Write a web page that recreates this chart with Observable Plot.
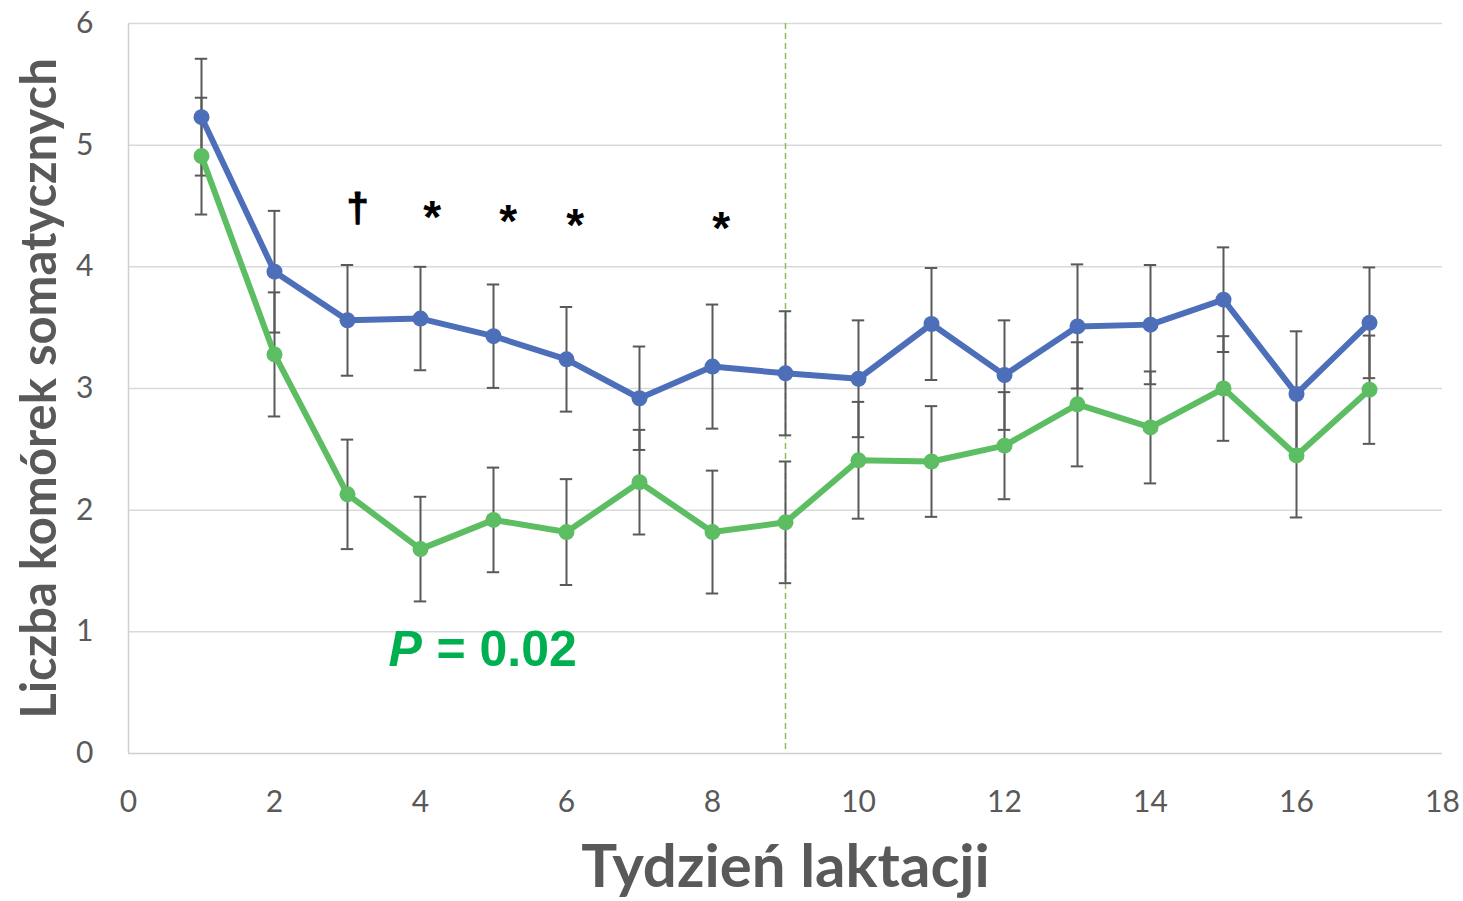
<!DOCTYPE html>
<html>
<head>
<meta charset="utf-8">
<script src="https://cdn.jsdelivr.net/npm/d3@7"></script>
<script src="https://cdn.jsdelivr.net/npm/@observablehq/plot@0.6"></script>
<style>
  html, body { margin: 0; padding: 0; background: #fff; }
  #chart svg { display: block; }
</style>
</head>
<body>
<div id="chart"></div>
<script>
const weeks = [1, 2, 3, 4, 5, 6, 7, 8, 9, 10, 11, 12, 13, 14, 15, 16, 17];
const blueMean = [5.23, 3.96, 3.56, 3.575, 3.43, 3.24, 2.92, 3.18, 3.125, 3.08, 3.53, 3.11, 3.51, 3.525, 3.73, 2.955, 3.54];
const blueErr  = [0.48, 0.50, 0.455, 0.425, 0.425, 0.43, 0.425, 0.51, 0.51, 0.48, 0.46, 0.45, 0.51, 0.49, 0.43, 0.515, 0.455];
const greenMean = [4.91, 3.28, 2.13, 1.68, 1.92, 1.82, 2.23, 1.82, 1.90, 2.41, 2.40, 2.53, 2.87, 2.68, 3.00, 2.45, 2.99];
const greenErr  = [0.48, 0.51, 0.45, 0.43, 0.43, 0.435, 0.43, 0.505, 0.50, 0.48, 0.455, 0.44, 0.51, 0.46, 0.43, 0.51, 0.445];

const xTicks = [0, 2, 4, 6, 8, 10, 12, 14, 16, 18];
const yTicks = [0, 1, 2, 3, 4, 5, 6];
const dividerWeek = [9];

const sigX = [3.14, 4.16, 5.2, 6.12, 8.12];
const sigY = [4.47, 4.40, 4.37, 4.33, 4.31];
const sigSymbols = ["†", "*", "*", "*", "*"];

const pLabelX = [3.56];
const pLabelY = [0.85];

const xTitle = "Tydzień laktacji";
const yTitle = "Liczba komórek somatycznych";

const blueRows = weeks.map((w, i) => ({week: w, mean: blueMean[i], err: blueErr[i]}));
const greenRows = weeks.map((w, i) => ({week: w, mean: greenMean[i], err: greenErr[i]}));
const allRows = blueRows.concat(greenRows);
const sigRows = sigX.map((x, i) => ({x, y: sigY[i], s: sigSymbols[i]}));

const BLUE = "#4d6fb9";
const GREEN = "#5cbd63";
const BAR = "#595959";
const capHalf = 0.085;

const chart = Plot.plot({
  width: 1463,
  height: 901,
  marginLeft: 128,
  marginRight: 21,
  marginTop: 23,
  marginBottom: 148,
  style: {fontFamily: "Lato, sans-serif", background: "#fff", overflow: "visible"},
  x: {domain: [0, 18]},
  y: {domain: [0, 6]},
  marks: [
    Plot.gridY(yTicks.filter(t => t > 0), {stroke: "#d9d9d9", strokeOpacity: 1, strokeWidth: 1.5}),
    Plot.ruleX([0], {stroke: "#d0d0d0", strokeWidth: 1.5}),
    Plot.ruleY([0], {stroke: "#d0d0d0", strokeWidth: 1.5}),
    Plot.ruleX(dividerWeek, {stroke: "#8cbd5a", strokeWidth: 1.5, strokeDasharray: "6,4"}),
    Plot.axisX(xTicks, {tickSize: 0, tickPadding: 37, fontSize: 30, color: "#595959", label: null, tickFormat: d => String(d)}),
    Plot.axisY(yTicks, {tickSize: 0, tickPadding: 35, fontSize: 30, color: "#595959", label: null, tickFormat: d => String(d)}),
    Plot.ruleX(allRows, {x: "week", y1: d => d.mean - d.err, y2: d => d.mean + d.err, stroke: BAR, strokeWidth: 2}),
    Plot.ruleY(allRows, {y: d => d.mean + d.err, x1: d => d.week - capHalf, x2: d => d.week + capHalf, stroke: BAR, strokeWidth: 2}),
    Plot.ruleY(allRows, {y: d => d.mean - d.err, x1: d => d.week - capHalf, x2: d => d.week + capHalf, stroke: BAR, strokeWidth: 2}),
    Plot.line(blueRows, {x: "week", y: "mean", stroke: BLUE, strokeWidth: 6}),
    Plot.line(greenRows, {x: "week", y: "mean", stroke: GREEN, strokeWidth: 6}),
    Plot.dot(blueRows, {x: "week", y: "mean", r: 8, fill: BLUE}),
    Plot.dot(greenRows, {x: "week", y: "mean", r: 8, fill: GREEN}),
    Plot.text(sigRows, {x: "x", y: "y", text: "s", fontSize: d => d.s === "*" ? 46 : 40, fontWeight: "bold", fill: "#000", stroke: d => d.s === "*" ? "none" : "#000", strokeWidth: 1, fontFamily: "Liberation Sans, sans-serif"}),
    Plot.text(["P"], {x: pLabelX, y: pLabelY, text: d => d, textAnchor: "start", fontSize: 50, fontWeight: "bold", fontStyle: "italic", fill: "#00b050", fontFamily: "Liberation Sans, sans-serif"}),
    Plot.text(["= 0.02"], {x: pLabelX, y: pLabelY, text: d => d, textAnchor: "start", dx: 48, fontSize: 50, fontWeight: "bold", fill: "#00b050", fontFamily: "Liberation Sans, sans-serif"}),
    Plot.text([xTitle], {frameAnchor: "bottom", dy: 133, text: d => d, fontSize: 60, fontWeight: "bold", fill: "#595959"}),
    Plot.text([yTitle], {frameAnchor: "left", dx: -88, rotate: -90, textAnchor: "middle", text: d => d, fontSize: 49, fontWeight: "bold", fill: "#595959"})
  ]
});
document.getElementById("chart").appendChild(chart);
</script>
</body>
</html>
